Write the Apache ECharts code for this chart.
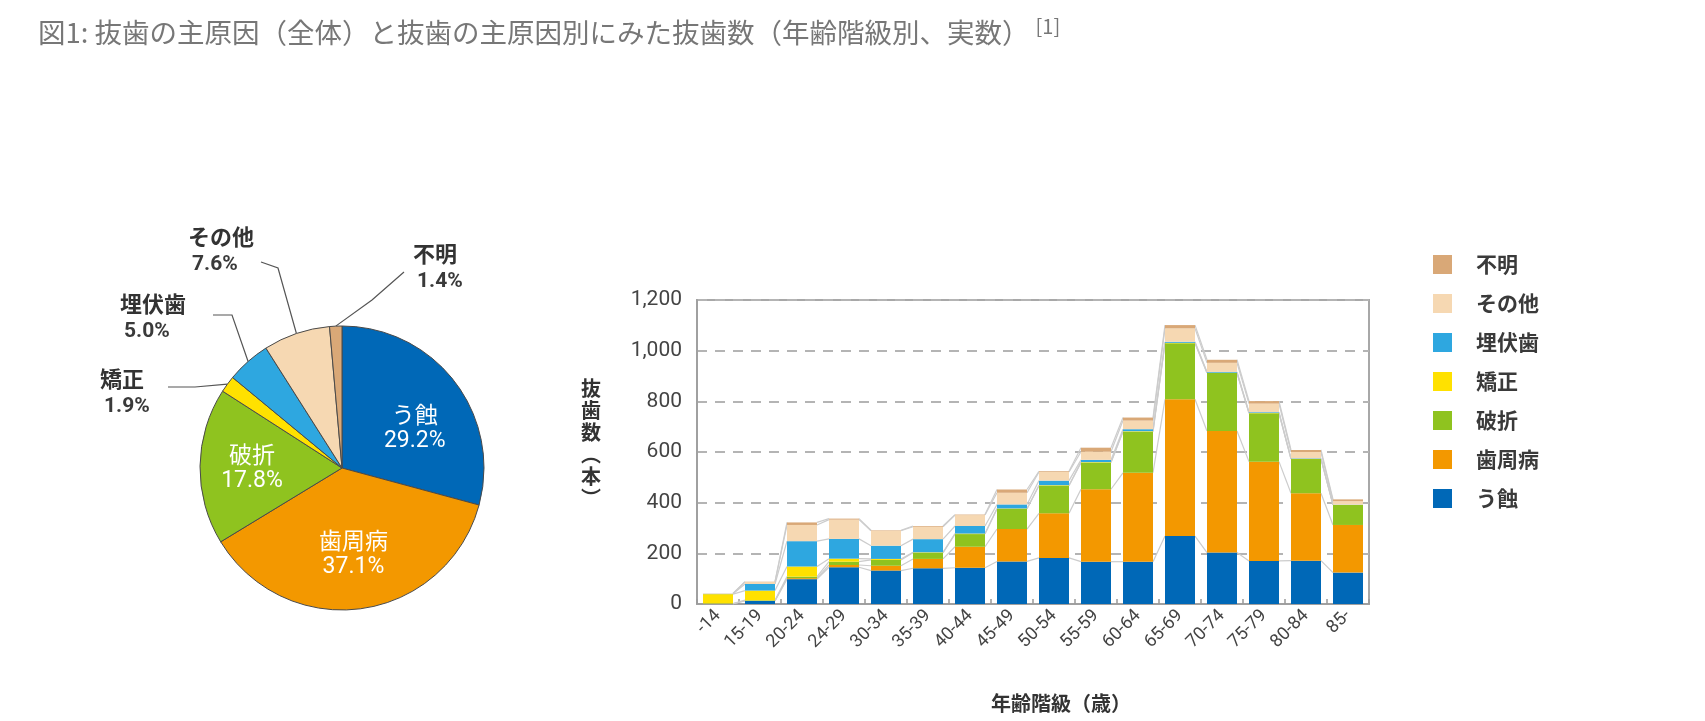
<!DOCTYPE html>
<html>
<head>
<meta charset="utf-8">
<script src="https://cdn.jsdelivr.net/npm/echarts@6/dist/echarts.min.js"></script>
<style>
html,body{margin:0;padding:0;background:#fff;}
#chart{width:1705px;height:721px;}
</style>
</head>
<body>
<div id="chart"></div>
<script>
// ---- data ----
const categories = ['-14','15-19','20-24','24-29','30-34','35-39','40-44','45-49','50-54','55-59','60-64','65-69','70-74','75-79','80-84','85-'];
const cariesVals    = [1, 12, 98, 145, 132, 141, 143, 168, 182, 167, 167, 268, 203, 170, 171, 124];
const perioVals     = [0, 1, 4, 9, 19, 37, 83, 128, 176, 286, 351, 540, 480, 392, 266, 188];
const fractureVals  = [1, 2, 6, 13, 23, 24, 50, 79, 109, 105, 162, 221, 229, 191, 135, 79];
const orthoVals     = [37, 38, 40, 12, 4, 2, 2, 2, 2, 2, 2, 2, 1, 1, 1, 0];
const impactedVals  = [1, 26, 100, 78, 52, 52, 30, 16, 18, 9, 8, 4, 3, 3, 2, 1];
const otherVals     = [2, 8, 64, 76, 59, 49, 43, 46, 34, 32, 34, 53, 36, 34, 25, 14];
const unknownVals   = [0, 1, 10, 4, 2, 3, 2, 13, 3, 16, 12, 13, 12, 10, 8, 7];

const causeNames  = ['う蝕','歯周病','破折','矯正','埋伏歯','その他','不明'];
const causeColors = ['#0068b7','#f39800','#8fc31f','#ffe100','#2ea7e0','#f6d8b2','#d9a877'];
const piePercents = [29.2, 37.1, 17.8, 1.9, 5.0, 7.6, 1.4];

const legendOrder = ['不明','その他','埋伏歯','矯正','破折','歯周病','う蝕'];
const yMin = 0, yMax = 1200, yStep = 200;

const titleText = '図1: 抜歯の主原因（全体）と抜歯の主原因別にみた抜歯数（年齢階級別、実数）';
const titleRef = '[1]';
const xAxisTitle = '年齢階級（歳）';
const yAxisTitleChars = ['抜','歯','数','︵','本','︶'];

// ---- helpers ----
const seriesValues = [cariesVals, perioVals, fractureVals, orthoVals, impactedVals, otherVals, unknownVals];
const cumulative = [];
seriesValues.forEach((arr, k) => {
  cumulative.push(arr.map((v, i) => v + (k > 0 ? cumulative[k - 1][i] : 0)));
});

const CJK = '"Noto Sans CJK JP", "Noto Sans", sans-serif';
const NUM = '"Roboto", "Liberation Sans", sans-serif';
const BAR_W = 30;

// label layout config for the pie (positions of outside labels and leader lines)
const outsideLayout = {
  5: { x: 188, y: 222, knee: [278, 268], end: [261, 262] },   // その他
  6: { x: 413, y: 239, knee: [372, 300], end: [404, 272] },   // 不明
  4: { x: 120, y: 289, knee: [232, 315], end: [213, 315] },   // 埋伏歯
  3: { x: 100, y: 364, knee: [195, 387], end: [168, 387] }    // 矯正
};
const insideOffset = { 0: [14, 4], 1: [1, 12], 2: [-16, 0] };

const pieData = causeNames.map((n, i) => {
  const item = { name: n, value: piePercents[i], itemStyle: { color: causeColors[i] } };
  if (outsideLayout[i]) {
    item.label = {
      position: 'outside',
      color: '#333',
      formatter: p => '{n|' + p.name + '}\n{p|' + p.value.toFixed(1) + '%}',
      rich: {
        n: { fontFamily: CJK, fontSize: 22, fontWeight: 'bold', color: '#333', lineHeight: 29 },
        p: { fontFamily: NUM, fontSize: 21, fontWeight: 'bold', color: '#3a3a3a', lineHeight: 27, padding: [0, 0, 0, 4] }
      }
    };
    item.labelLine = { show: true, length: 20, length2: 20, lineStyle: { color: '#555', width: 1.2 } };
  }
  return item;
});

const barSeries = causeNames.map((n, k) => ({
  type: 'bar',
  name: n,
  stack: 'total',
  barWidth: BAR_W,
  data: seriesValues[k],
  itemStyle: { color: causeColors[k] },
  z: 3
}));

const connectorSeries = {
  type: 'custom',
  name: 'connectors',
  silent: true,
  z: 1,
  data: categories.slice(0, -1).map((c, i) => [i, 0]),
  encode: { x: 0, y: 1 },
  renderItem: function (params, api) {
    const i = api.value(0);
    const children = [];
    for (let k = 0; k < cumulative.length; k++) {
      const p1 = api.coord([i, cumulative[k][i]]);
      const p2 = api.coord([i + 1, cumulative[k][i + 1]]);
      children.push({
        type: 'line',
        shape: { x1: p1[0] + BAR_W / 2, y1: p1[1], x2: p2[0] - BAR_W / 2, y2: p2[1] },
        style: { stroke: '#cccccc', lineWidth: 1.2 }
      });
    }
    return { type: 'group', children: children };
  }
};

const chart = echarts.init(document.getElementById('chart'), null, { renderer: 'canvas' });

const option = {
  backgroundColor: '#ffffff',
  animation: false,
  title: {
    left: 33,
    top: 11,
    text: '{t|' + titleText + '}{s|' + titleRef + '}',
    textStyle: {
      fontWeight: 'normal',
      rich: {
        t: { fontFamily: CJK, fontSize: 27.5, fontWeight: 'normal', color: '#777777', lineHeight: 34 },
        s: { fontFamily: CJK, fontSize: 20, fontWeight: 'normal', color: '#777777', verticalAlign: 'top', lineHeight: 34, padding: [0, 0, 14, 6] }
      }
    }
  },
  legend: {
    orient: 'vertical',
    left: 1428,
    top: 249,
    data: legendOrder,
    icon: 'rect',
    itemWidth: 19,
    itemHeight: 19,
    itemGap: 18,
    selectedMode: false,
    textStyle: { fontFamily: CJK, fontSize: 21, fontWeight: 'bold', color: '#3a3a3a', padding: [0, 0, 0, 19] }
  },
  grid: {
    left: 697, right: 336, top: 300, bottom: 117,
    show: true, borderColor: '#a8a8a8', borderWidth: 2, containLabel: false
  },
  xAxis: {
    type: 'category',
    data: categories,
    boundaryGap: true,
    axisLine: { show: true, lineStyle: { color: '#a0a0a0', width: 2 } },
    axisTick: { show: true, inside: true, length: 5, alignWithLabel: false, lineStyle: { color: '#999', width: 1.5 } },
    axisLabel: { rotate: 45, fontFamily: NUM, fontSize: 18, color: '#444', margin: 9, interval: 0 }
  },
  yAxis: {
    type: 'value',
    min: yMin, max: yMax, interval: yStep,
    axisLine: { show: true, lineStyle: { color: '#a0a0a0', width: 2 } },
    axisTick: { show: false },
    axisLabel: {
      fontFamily: NUM, fontSize: 21, color: '#444', margin: 15,
      formatter: v => v.toLocaleString('en-US')
    },
    splitLine: { show: true, lineStyle: { color: '#b4b4b4', width: 2, type: [10, 8] } }
  },
  graphic: [
    {
      type: 'text',
      left: 991, top: 693,
      style: { text: xAxisTitle, fontFamily: CJK, fontSize: 20, fontWeight: 'bold', fill: '#333' }
    },
    {
      type: 'text',
      x: 591, y: 443,
      style: {
        text: yAxisTitleChars.join('\n'), fontFamily: CJK, fontSize: 20, fontWeight: 'bold', fill: '#333',
        lineHeight: 22, align: 'center', verticalAlign: 'middle'
      }
    }
  ],
  series: [
    connectorSeries,
    ...barSeries,
    {
      type: 'pie',
      name: '全体',
      center: [342, 468],
      radius: 142,
      startAngle: 90,
      clockwise: true,
      avoidLabelOverlap: false,
      itemStyle: { borderColor: '#4a4a4a', borderWidth: 1 },
      emphasis: { disabled: true },
      label: {
        show: true,
        position: 'inside',
        color: '#fff',
        formatter: p => '{n|' + p.name + '}\n{p|' + p.value.toFixed(1) + '%}',
        rich: {
          n: { fontFamily: CJK, fontSize: 23, color: '#fff', lineHeight: 28 },
          p: { fontFamily: NUM, fontSize: 23, color: '#fff', lineHeight: 26 }
        }
      },
      labelLine: { show: false },
      labelLayout: function (p) {
        const cfg = outsideLayout[p.dataIndex];
        if (cfg) {
          const pts = p.labelLinePoints;
          const a = pts ? pts[0] : cfg.knee;
          return {
            x: cfg.x, y: cfg.y, align: 'left', verticalAlign: 'top',
            labelLinePoints: [a, cfg.knee, cfg.end]
          };
        }
        const off = insideOffset[p.dataIndex];
        if (off) return { dx: off[0], dy: off[1] };
        return {};
      },
      data: pieData
    }
  ]
};

chart.setOption(option);
</script>
</body>
</html>
